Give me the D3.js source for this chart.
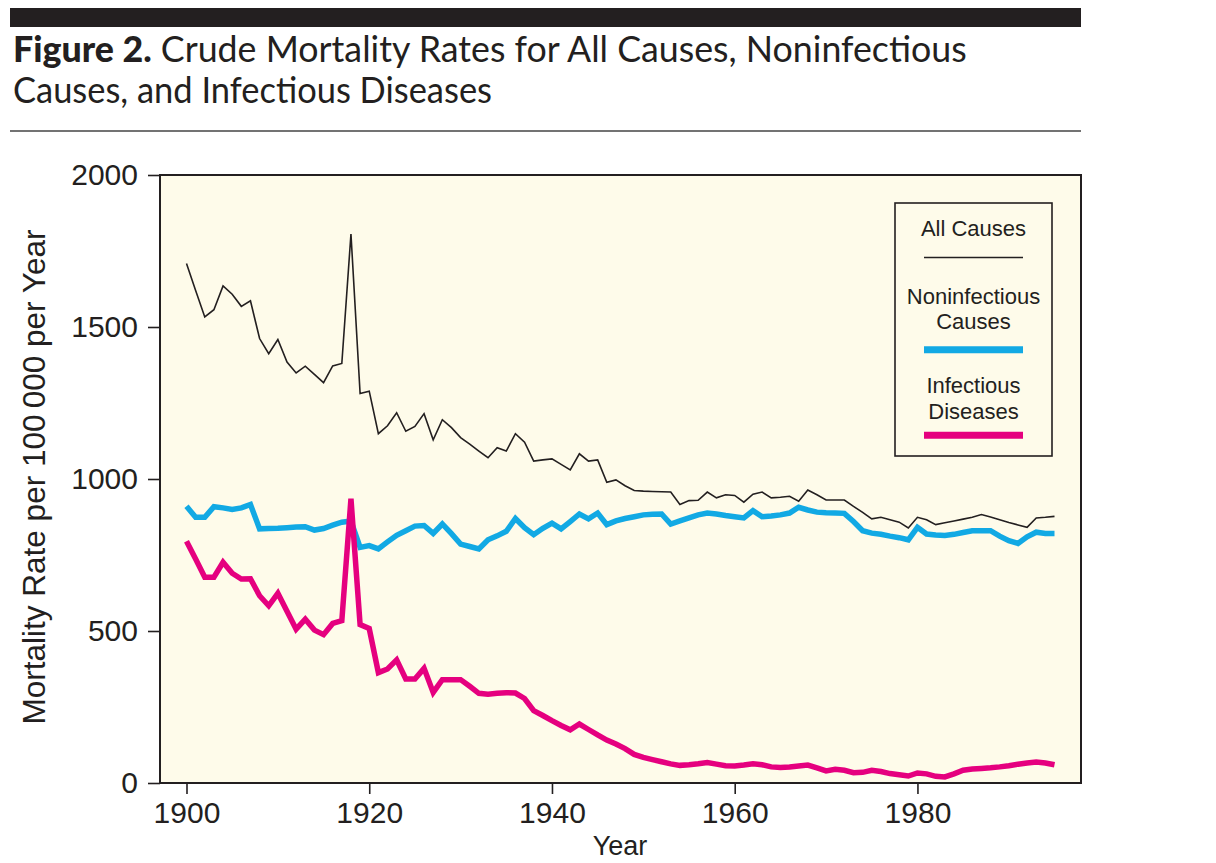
<!DOCTYPE html>
<html>
<head>
<meta charset="utf-8">
<script src="https://cdn.jsdelivr.net/npm/d3@7"></script>
<style>
  html, body { margin: 0; padding: 0; background: #ffffff; }
  svg { display: block; }
</style>
</head>
<body>
<svg id="chart" width="1216" height="863"></svg>
<script>
// ---------- data ----------
const years = [
  1900,1901,1902,1903,1904,1905,1906,1907,1908,1909,
  1910,1911,1912,1913,1914,1915,1916,1917,1918,1919,
  1920,1921,1922,1923,1924,1925,1926,1927,1928,1929,
  1930,1931,1932,1933,1934,1935,1936,1937,1938,1939,
  1940,1941,1942,1943,1944,1945,1946,1947,1948,1949,
  1950,1951,1952,1953,1954,1955,1956,1957,1958,1959,
  1960,1961,1962,1963,1964,1965,1966,1967,1968,1969,
  1970,1971,1972,1973,1974,1975,1976,1977,1978,1979,
  1980,1981,1982,1983,1984,1985,1986,1987,1988,1989,
  1990,1991,1992,1993,1994,1995
];
const allCauses = [
  1709,1620,1533,1557,1635,1608,1568,1586,1462,1412,
  1459,1385,1349,1371,1344,1317,1372,1380,1806,1281,
  1289,1149,1175,1218,1157,1173,1215,1129,1195,1169,
  1136,1115,1092,1070,1103,1092,1149,1121,1059,1063,
  1066,1048,1030,1083,1059,1063,989,997,978,962,
  960,959,958,957,916,929,930,957,938,948,
  946,924,950,957,938,940,943,927,964,948,
  931,931,931,910,890,869,874,866,858,839,
  874,866,850,856,862,868,874,883,875,866,
  857,849,841,872,874,877
];
const noninfectious = [
  910,874,874,909,905,900,905,916,836,837,
  838,840,842,843,832,837,848,858,862,775,
  781,770,793,815,830,845,847,821,852,820,
  786,778,770,800,813,828,870,840,817,838,
  855,836,860,885,869,888,850,862,870,876,
  882,884,885,852,862,872,882,888,885,880,
  876,872,896,876,878,882,888,907,898,891,
  889,888,887,860,830,822,818,812,807,800,
  841,819,816,814,818,824,830,830,830,812,
  797,788,810,825,821,821
];
const infectious = [
  795,737,677,677,726,690,671,672,616,583,
  624,565,506,539,503,488,525,534,935,521,
  508,363,375,405,342,342,377,298,340,340,
  340,318,295,292,295,297,296,278,238,222,
  205,189,175,194,176,158,141,128,113,94,
  84,77,70,63,58,60,63,67,62,57,
  56,59,63,60,53,51,53,56,59,50,
  40,45,42,34,35,42,38,31,27,23,
  33,30,22,20,30,42,46,48,50,53,
  57,62,66,69,66,60
];
const yTicks = [0, 500, 1000, 1500, 2000];
const xTicks = [1900, 1920, 1940, 1960, 1980];
const titleBold = "Figure 2.";
const titleLine1 = " Crude Mortality Rates for All Causes, Noninfectious";
const titleLine2 = "Causes, and Infectious Diseases";
const yLabel = "Mortality Rate per 100\u2009000 per Year";
const xLabel = "Year";
const legendItems = [
  { lines: ["All Causes"], key: "all" },
  { lines: ["Noninfectious", "Causes"], key: "non" },
  { lines: ["Infectious", "Diseases"], key: "inf" }
];

// ---------- styles ----------
const colors = { all: "#231f20", non: "#12a9e4", inf: "#e5007f" };
const widths = { all: 1.6, non: 5.5, inf: 5.5 };
const ink = "#231f20";
const axisFont = "'Liberation Sans', Arial, Helvetica, sans-serif";
const titleFont = "Lato, 'Open Sans', sans-serif";

const svg = d3.select("#chart");
const plot = { left: 160, top: 175, right: 1081, bottom: 783 };

const x = d3.scaleLinear().domain([1897.1, 1997.9]).range([plot.left, plot.right]);
const y = d3.scaleLinear().domain([0, 2000]).range([plot.bottom, plot.top]);

// ---------- header ----------
svg.append("rect").attr("x", 10).attr("y", 8).attr("width", 1071).attr("height", 19).attr("fill", ink);

const t1 = svg.append("text")
  .attr("x", 13).attr("y", 62)
  .attr("font-family", titleFont).attr("font-size", 31).attr("fill", ink);
t1.append("tspan").attr("font-weight", 900).text(titleBold);
t1.append("tspan").attr("font-weight", 400).text(titleLine1);
const t2 = svg.append("text")
  .attr("x", 13).attr("y", 103)
  .attr("font-family", titleFont).attr("font-size", 31).attr("fill", ink)
  .text(titleLine2);
// fit title width to the reference line length
const w1 = t1.node().getComputedTextLength();
const fs = 31 * 954 / w1;
t1.attr("font-size", fs);
t2.attr("font-size", fs);
t2.attr("textLength", 479).attr("lengthAdjust", "spacingAndGlyphs");

svg.append("line").attr("x1", 10).attr("x2", 1081).attr("y1", 131).attr("y2", 131)
  .attr("stroke", "#444").attr("stroke-width", 1.5);

// ---------- plot panel ----------
svg.append("rect")
  .attr("x", plot.left).attr("y", plot.top)
  .attr("width", plot.right - plot.left).attr("height", plot.bottom - plot.top)
  .attr("fill", "#fefbea");

// ---------- series ----------
const series = [
  { key: "non", values: noninfectious },
  { key: "inf", values: infectious },
  { key: "all", values: allCauses }
];
const line = d3.line().x((d, i) => x(years[i])).y(d => y(d));
svg.append("g").selectAll("path").data(series).join("path")
  .attr("d", d => line(d.values))
  .attr("fill", "none")
  .attr("stroke", d => colors[d.key])
  .attr("stroke-width", d => widths[d.key])
  .attr("stroke-linejoin", "miter")
  .attr("stroke-miterlimit", 3);

// frame on top
svg.append("rect")
  .attr("x", plot.left).attr("y", plot.top)
  .attr("width", plot.right - plot.left).attr("height", plot.bottom - plot.top)
  .attr("fill", "none").attr("stroke", ink).attr("stroke-width", 2);

// ---------- axes ----------
const yAxis = svg.append("g").attr("transform", `translate(${plot.left},0)`)
  .call(d3.axisLeft(y).tickValues(yTicks).tickFormat(d3.format("d")).tickSize(12).tickPadding(10));
const xAxis = svg.append("g").attr("transform", `translate(0,${plot.bottom})`)
  .call(d3.axisBottom(x).tickValues(xTicks).tickFormat(d3.format("d")).tickSize(11).tickPadding(8));
[yAxis, xAxis].forEach(g => {
  g.select(".domain").remove();
  g.selectAll(".tick line").attr("stroke", ink).attr("stroke-width", 1.6);
  g.selectAll(".tick text").attr("fill", ink).attr("font-family", axisFont).attr("font-size", 30);
});

svg.append("text")
  .attr("transform", "translate(45,477) rotate(-90)")
  .attr("text-anchor", "middle")
  .attr("font-family", axisFont).attr("font-size", 31.5).attr("fill", ink)
  .text(yLabel);

svg.append("text")
  .attr("x", 620).attr("y", 855)
  .attr("text-anchor", "middle")
  .attr("font-family", axisFont).attr("font-size", 27).attr("fill", ink)
  .text(xLabel);

// ---------- legend ----------
const lg = svg.append("g");
lg.append("rect").attr("x", 895).attr("y", 203).attr("width", 157).attr("height", 253)
  .attr("fill", "none").attr("stroke", ink).attr("stroke-width", 1.6);
const legendLayout = {
  all: { textY: [236], keyY: 257.5 },
  non: { textY: [304, 329], keyY: 349.7 },
  inf: { textY: [393, 419], keyY: 435.3 }
};
legendItems.forEach(item => {
  const L = legendLayout[item.key];
  item.lines.forEach((s, j) => {
    lg.append("text").attr("x", 973.5).attr("y", L.textY[j])
      .attr("text-anchor", "middle")
      .attr("font-family", axisFont).attr("font-size", 22)
      .attr("fill", ink).text(s);
  });
  lg.append("line").attr("x1", 924).attr("x2", 1023)
    .attr("y1", L.keyY).attr("y2", L.keyY)
    .attr("stroke", colors[item.key])
    .attr("stroke-width", item.key === "all" ? 1.6 : 7);
});
</script>
</body>
</html>
